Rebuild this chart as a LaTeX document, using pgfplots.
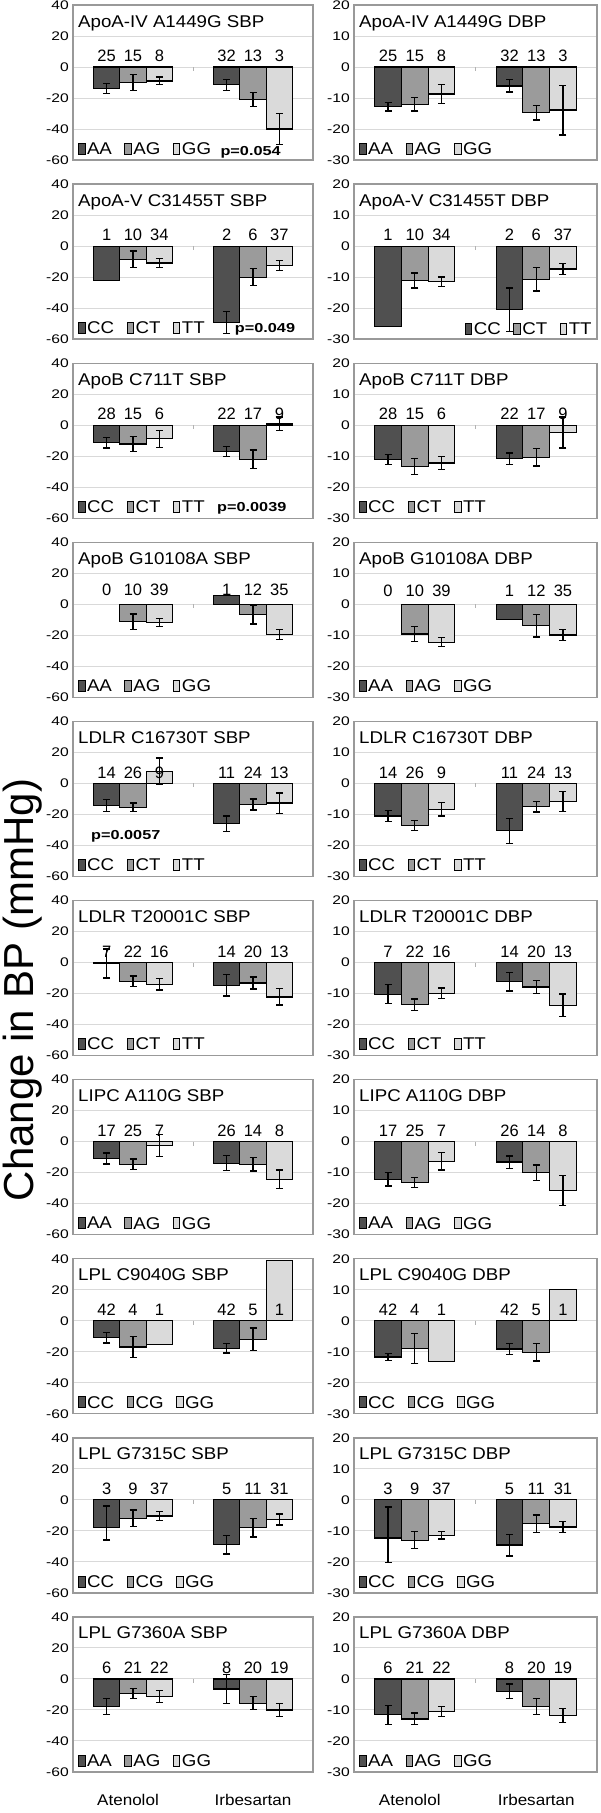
\documentclass[border=0pt]{standalone}
\usepackage{pgfplots}
\usepackage{pgfplotstable}
\pgfplotsset{compat=1.18}
\usepackage{fontspec}
\setmainfont{Liberation Sans}
\newfontfamily\tfont{Liberation Sans}[FakeStretch=1.1]
\newfontfamily\kfont{Liberation Sans}[FakeStretch=1.25]

\definecolor{gA}{RGB}{80,80,80}
\definecolor{gB}{RGB}{155,155,155}
\definecolor{gC}{RGB}{218,218,218}
\newcommand\fs[1]{\fontsize{#1}{#1}\selectfont}

% columns: x, then value / err+ / err- for the three genotypes
\pgfplotstableread{
x a ap am b bp bm c cp cm
1 -14 3.3 3.3 -10 5 5 -9 2.5 2.5
2 -11.5 3.6 3.6 -21 4.4 4.4 -40 10 10
}\tAs
\pgfplotstableread{
x a ap am b bp bm c cp cm
1 -12.8 1.4 1.4 -12 2.2 2.2 -8.7 3 3
2 -6.1 2 2 -14.8 2.3 2.3 -13.9 8 8
}\tAd
\pgfplotstableread{
x a ap am b bp bm c cp cm
1 -22 0 0 -8.5 5.3 5.3 -10.9 2.8 2.8
2 -49.3 7 7 -20 5.5 5.5 -12.4 3.2 3.2
}\tBs
\pgfplotstableread{
x a ap am b bp bm c cp cm
1 -25.9 0 0 -11.1 2.4 2.4 -11.5 1.5 1.5
2 -20.5 7 7 -10.7 3.8 3.8 -7.4 1.7 1.7
}\tBd
\pgfplotstableread{
x a ap am b bp bm c cp cm
1 -11.4 3.3 3.3 -12.1 4.8 4.8 -8.8 5.5 5.5
2 -16.9 3.3 3.3 -22 6 6 0.8 4.4 4.4
}\tCs
\pgfplotstableread{
x a ap am b bp bm c cp cm
1 -11 1.6 1.6 -13.3 2.6 2.6 -12.2 2.2 2.2
2 -10.8 1.8 1.8 -10.4 2.8 2.8 -2.4 5 5
}\tCd
\pgfplotstableread{
x a ap am b bp bm c cp cm
1 nan 0 0 -11.3 5 5 -11.8 2.7 2.7
2 5.5 0 0 -6.6 6.2 6.2 -19.6 3.2 3.2
}\tDs
\pgfplotstableread{
x a ap am b bp bm c cp cm
1 nan 0 0 -9.6 2.5 2.5 -12.2 1.4 1.4
2 -4.9 0 0 -6.9 3.6 3.6 -9.9 1.7 1.7
}\tDd
\pgfplotstableread{
x a ap am b bp bm c cp cm
1 -14.2 3.8 3.8 -15.3 2.7 2.7 7.8 8.5 8.5
2 -26 5 5 -13.6 3.6 3.6 -12.7 6.5 6.5
}\tEs
\pgfplotstableread{
x a ap am b bp bm c cp cm
1 -10.5 1.8 1.8 -13.6 1.7 1.7 -8.3 2.2 2.2
2 -15.3 4 4 -7.5 1.7 1.7 -5.8 3.2 3.2
}\tEd
\pgfplotstableread{
x a ap am b bp bm c cp cm
1 -0.6 9.3 9.3 -12.1 3.4 3.4 -14.1 3.6 3.6
2 -14.7 6.9 6.9 -13.2 3.8 3.8 -22.2 5.3 5.3
}\tFs
\pgfplotstableread{
x a ap am b bp bm c cp cm
1 -10.2 3 3 -13.6 1.8 1.8 -9.9 1.7 1.7
2 -6.2 3 3 -7.9 2 2 -13.8 3.6 3.6
}\tFd
\pgfplotstableread{
x a ap am b bp bm c cp cm
1 -10.9 3.5 3.5 -14.6 3.3 3.3 -2.5 7 7
2 -13.9 4.9 4.9 -14.6 4.4 4.4 -24.3 5.9 5.9
}\tGs
\pgfplotstableread{
x a ap am b bp bm c cp cm
1 -12.1 2.2 2.2 -13.2 1.7 1.7 -6.3 2.9 2.9
2 -6.6 2 2 -10 2.5 2.5 -15.8 4.9 4.9
}\tGd
\pgfplotstableread{
x a ap am b bp bm c cp cm
1 -10.9 3.4 3.4 -17 6.8 6.8 -15.5 0 0
2 -17.8 3 3 -12 7.3 7.3 39 0 0
}\tHs
\pgfplotstableread{
x a ap am b bp bm c cp cm
1 -11.7 1.2 1.2 -9 4.8 4.8 -13.2 0 0
2 -9.1 1.8 1.8 -10.2 2.8 2.8 10 0 0
}\tHd
\pgfplotstableread{
x a ap am b bp bm c cp cm
1 -18 14 8 -12 5.4 5.4 -10.4 3 3
2 -29 6 6 -18 5.9 5.9 -12.7 3.6 3.6
}\tIs
\pgfplotstableread{
x a ap am b bp bm c cp cm
1 -12.3 10 8 -13 2.8 2.8 -11.4 1.2 1.2
2 -14.6 3.5 3.5 -7.7 2.8 2.8 -8.8 1.8 1.8
}\tId
\pgfplotstableread{
x a ap am b bp bm c cp cm
1 -17.8 5.1 5.1 -9.5 3.2 3.2 -11.3 3.8 3.8
2 -6.5 9.4 9.4 -15.6 4.1 4.1 -20 4.2 4.2
}\tJs
\pgfplotstableread{
x a ap am b bp bm c cp cm
1 -11.6 3 3 -12.9 1.9 1.9 -10.5 1.6 1.6
2 -4 2.4 2.4 -8.9 2.6 2.6 -11.8 2.2 2.2
}\tJd

\pgfplotsset{
  panel/.style={
    scale only axis, width=240pt, height=155pt,
    xmin=0.5, xmax=2.5, xtick=\empty,
    ybar=0pt, bar width=0.22, clip=false,
    axis line style={draw=black!40, line width=1.4pt},
    ymajorgrids, major grid style={draw=black!15, line width=1pt},
    major tick length=0pt, tick style={draw=none},
    /pgf/number format/assume math mode=true,
    yticklabel style={font=\kfont\fs{12.5}, inner sep=0pt, xshift=-4pt},
    legend columns=3,
    legend image code/.code={\draw[##1, draw=black, line width=1pt] (0pt,-5pt) rectangle (6.5pt,6pt);},
    legend style={draw=none, fill=none, at={(0.02,0.025)}, anchor=south west,
      font=\tfont\fs{17}, inner sep=0pt, nodes={inner xsep=1.5pt, inner ysep=0pt},
      /tikz/every even column/.append style={column sep=11pt}},
  },
  sbp/.style={panel, ymin=-60, ymax=40, ytick={-60,-40,...,40}},
  dbp/.style={panel, width=243pt, ymin=-30, ymax=20, ytick={-30,-20,...,20}},
  bottom/.style={xtick={1,2}, xticklabels={Atenolol\hspace*{10pt},Irbesartan},
    xticklabel style={font=\tfont\fs{15.5}, anchor=base, yshift=-34pt, inner sep=0pt}},
  eb/.style={error bars/.cd, y dir=both, y explicit,
    error bar style={line width=1.3pt, black},
    error mark options={rotate=90, mark size=3.5pt, line width=1.3pt, black}},
}
\tikzset{
  nl/.style={anchor=base, font=\fs{16.5}, inner sep=0pt},
  pv/.style={font=\kfont\bfseries\fs{13}, inner sep=0pt},
}
\newcommand\bars[1]{%
  \addplot[fill=gA, draw=black, line width=1.2pt, eb] table[x=x, y=a, y error plus=ap, y error minus=am]{#1};
  \addplot[fill=gB, draw=black, line width=1.2pt, eb] table[x=x, y=b, y error plus=bp, y error minus=bm]{#1};
  \addplot[fill=gC, draw=black, line width=1.2pt, eb] table[x=x, y=c, y error plus=cp, y error minus=cm]{#1};
}
\newcommand\nlab[7]{%
  \node[nl] at (axis cs:0.78,#1) {#2};
  \node[nl] at (axis cs:1,#1) {#3};
  \node[nl] at (axis cs:1.22,#1) {#4};
  \node[nl] at (axis cs:1.78,#1) {#5};
  \node[nl] at (axis cs:2,#1) {#6};
  \node[nl] at (axis cs:2.22,#1) {#7};
}
\newcommand\ttl[1]{\node[anchor=base west, font=\tfont\fs{17}, inner sep=0pt, xshift=5pt, yshift=-22pt] at (rel axis cs:0,1) {#1};}
\newcommand\sep{\draw[black!30, line width=1pt] (axis cs:1.5,0) -- ++(0pt,-4pt);}

\begin{document}
\begin{tikzpicture}
\path[use as bounding box] (0,0) rectangle (600pt,-1813pt);

% row 1
\begin{axis}[sbp, at={(73pt,-5pt)}, anchor=north west]
\bars{\tAs}\legend{AA,AG,GG}\ttl{ApoA-IV A1449G SBP}\sep
\nlab{3.4}{25}{15}{8}{32}{13}{3}
\node[pv] at (axis cs:1.98,-55) {p=0.054};
\end{axis}
\begin{axis}[dbp, at={(354pt,-5pt)}, anchor=north west]
\bars{\tAd}\legend{AA,AG,GG}\ttl{ApoA-IV A1449G DBP}\sep
\nlab{1.7}{25}{15}{8}{32}{13}{3}
\end{axis}

% row 2
\begin{axis}[sbp, at={(73pt,-184.1pt)}, anchor=north west]
\bars{\tBs}\legend{CC,CT,TT}\ttl{ApoA-V C31455T SBP}\sep
\nlab{3.4}{1}{10}{34}{2}{6}{37}
\node[pv] at (axis cs:2.1,-54) {p=0.049};
\end{axis}
\begin{axis}[dbp, at={(354pt,-184.1pt)}, anchor=north west,
  legend style={at={(0.985,0.02)}, anchor=south east}]
\bars{\tBd}\legend{CC,CT,TT}\ttl{ApoA-V C31455T DBP}\sep
\nlab{1.7}{1}{10}{34}{2}{6}{37}
\end{axis}

% row 3
\begin{axis}[sbp, at={(73pt,-363.2pt)}, anchor=north west]
\bars{\tCs}\legend{CC,CT,TT}\ttl{ApoB C711T SBP}\sep
\nlab{3.4}{28}{15}{6}{22}{17}{9}
\node[pv] at (axis cs:1.99,-53.5) {p=0.0039};
\end{axis}
\begin{axis}[dbp, at={(354pt,-363.2pt)}, anchor=north west]
\bars{\tCd}\legend{CC,CT,TT}\ttl{ApoB C711T DBP}\sep
\nlab{1.7}{28}{15}{6}{22}{17}{9}
\end{axis}

% row 4
\begin{axis}[sbp, at={(73pt,-542.3pt)}, anchor=north west]
\bars{\tDs}\legend{AA,AG,GG}\ttl{ApoB G10108A SBP}\sep
\nlab{6}{0}{10}{39}{1}{12}{35}
\end{axis}
\begin{axis}[dbp, at={(354pt,-542.3pt)}, anchor=north west]
\bars{\tDd}\legend{AA,AG,GG}\ttl{ApoB G10108A DBP}\sep
\nlab{2.4}{0}{10}{39}{1}{12}{35}
\end{axis}

% row 5
\begin{axis}[sbp, at={(73pt,-721.4pt)}, anchor=north west]
\bars{\tEs}\legend{CC,CT,TT}\ttl{LDLR C16730T SBP}\sep
\nlab{3.4}{14}{26}{9}{11}{24}{13}
\node[pv] at (axis cs:0.94,-34) {p=0.0057};
\end{axis}
\begin{axis}[dbp, at={(354pt,-721.4pt)}, anchor=north west]
\bars{\tEd}\legend{CC,CT,TT}\ttl{LDLR C16730T DBP}\sep
\nlab{1.7}{14}{26}{9}{11}{24}{13}
\end{axis}

% row 6
\begin{axis}[sbp, at={(73pt,-900.5pt)}, anchor=north west]
\bars{\tFs}\legend{CC,CT,TT}\ttl{LDLR T20001C SBP}\sep
\nlab{3.4}{7}{22}{16}{14}{20}{13}
\end{axis}
\begin{axis}[dbp, at={(354pt,-900.5pt)}, anchor=north west]
\bars{\tFd}\legend{CC,CT,TT}\ttl{LDLR T20001C DBP}\sep
\nlab{1.7}{7}{22}{16}{14}{20}{13}
\end{axis}

% row 7
\begin{axis}[sbp, at={(73pt,-1079.6pt)}, anchor=north west]
\bars{\tGs}\legend{AA,AG,GG}\ttl{LIPC A110G SBP}\sep
\nlab{3.4}{17}{25}{7}{26}{14}{8}
\end{axis}
\begin{axis}[dbp, at={(354pt,-1079.6pt)}, anchor=north west]
\bars{\tGd}\legend{AA,AG,GG}\ttl{LIPC A110G DBP}\sep
\nlab{1.7}{17}{25}{7}{26}{14}{8}
\end{axis}

% row 8
\begin{axis}[sbp, at={(73pt,-1258.7pt)}, anchor=north west]
\bars{\tHs}\legend{CC,CG,GG}\ttl{LPL C9040G SBP}\sep
\nlab{3.4}{42}{4}{1}{42}{5}{1}
\end{axis}
\begin{axis}[dbp, at={(354pt,-1258.7pt)}, anchor=north west]
\bars{\tHd}\legend{CC,CG,GG}\ttl{LPL C9040G DBP}\sep
\nlab{1.7}{42}{4}{1}{42}{5}{1}
\end{axis}

% row 9
\begin{axis}[sbp, at={(73pt,-1437.8pt)}, anchor=north west]
\bars{\tIs}\legend{CC,CG,GG}\ttl{LPL G7315C SBP}\sep
\nlab{3.4}{3}{9}{37}{5}{11}{31}
\end{axis}
\begin{axis}[dbp, at={(354pt,-1437.8pt)}, anchor=north west]
\bars{\tId}\legend{CC,CG,GG}\ttl{LPL G7315C DBP}\sep
\nlab{1.7}{3}{9}{37}{5}{11}{31}
\end{axis}

% row 10
\begin{axis}[sbp, bottom, at={(73pt,-1616.9pt)}, anchor=north west]
\bars{\tJs}\legend{AA,AG,GG}\ttl{LPL G7360A SBP}\sep
\nlab{3.4}{6}{21}{22}{8}{20}{19}
\end{axis}
\begin{axis}[dbp, bottom, at={(354pt,-1616.9pt)}, anchor=north west]
\bars{\tJd}\legend{AA,AG,GG}\ttl{LPL G7360A DBP}\sep
\nlab{1.7}{6}{21}{22}{8}{20}{19}
\end{axis}

\node[rotate=90, anchor=base, font=\fs{42}] at (34pt,-990pt) {Change in BP (mmHg)};
\end{tikzpicture}
\end{document}
